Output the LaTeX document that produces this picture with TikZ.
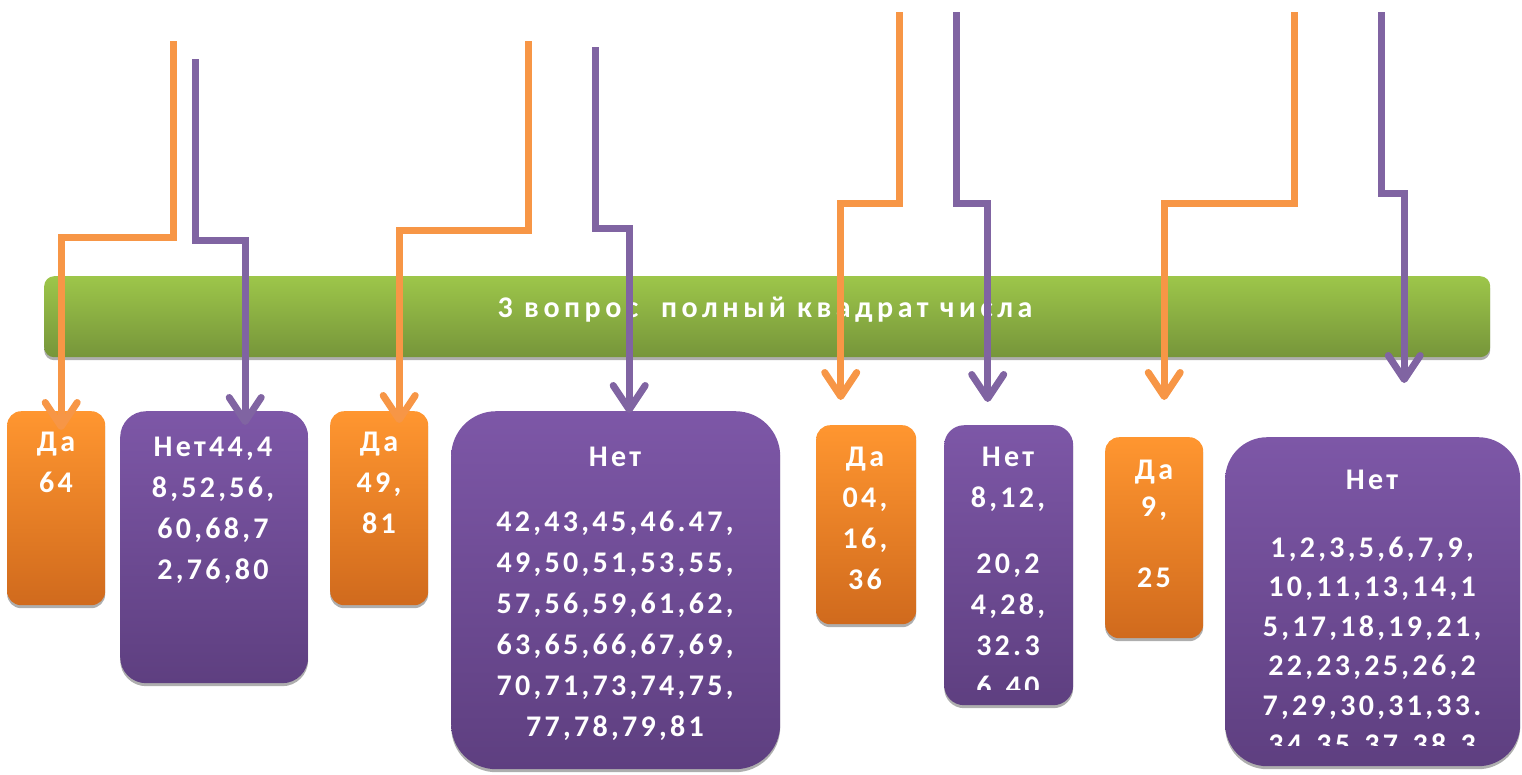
\documentclass[tikz,border=0pt]{standalone}
\usepackage{fontspec}
\setmainfont{Carlito}[LetterSpace=11]
\newfontfamily\barfont{Carlito}[LetterSpace=15]
\usetikzlibrary{arrows.meta,shadows}

\definecolor{datop}{HTML}{FF9630}
\definecolor{dabot}{HTML}{D06A1D}
\definecolor{nettop}{HTML}{7D57A7}
\definecolor{netbot}{HTML}{5E3F80}
\definecolor{bartop}{HTML}{9DC64A}
\definecolor{barbot}{HTML}{76953A}
\definecolor{daline}{HTML}{F79646}
\definecolor{netline}{HTML}{8064A2}

\tikzset{
  boxshadow/.style={drop shadow={shadow xshift=0pt,shadow yshift=-3pt,opacity=.45,fill=black!70}},
  qbar/.style={anchor=north west, inner sep=0, rounded corners=10pt,
    top color=bartop, bottom color=barbot, boxshadow},
  dabox/.style={anchor=north west, inner sep=0, rounded corners=14pt,
    top color=datop, bottom color=dabot, boxshadow},
  netbox/.style={anchor=north west, inner sep=0,
    top color=nettop, bottom color=netbot, boxshadow},
  boxtext/.style={anchor=north, inner sep=0, align=center, text=white,
    font=\bfseries\fontsize{30}{41}\selectfont},
  yesarrow/.style={draw=daline, line width=7pt, line join=miter,
    -{Straight Barb[length=24pt,width=32pt,round]},
    preaction={draw=black!60, opacity=.4, transform canvas={yshift=-3pt}}},
  noarrow/.style={yesarrow, draw=netline}
}

\begin{document}
\begin{tikzpicture}[x=1pt,y=-1pt]
  \useasboundingbox (0,0) rectangle (1522,774);

  % question bar
  \node[qbar, minimum width=1446pt, minimum height=81pt] (q) at (44,276) {};
  \node[anchor=base, inner sep=0, text=white, font=\barfont\bfseries\fontsize{30}{32}\selectfont]
    (qt) at (765,317) {3 вопрос~~полный квадрат числа};

  % answer boxes
  \node[dabox, minimum width=98pt, minimum height=194pt] (D1) at (7,411) {};
  \node[netbox, rounded corners=26pt, minimum width=188pt, minimum height=272pt] (N1) at (120,411) {};
  \node[dabox, minimum width=98pt, minimum height=194pt] (D2) at (330,411) {};
  \node[netbox, rounded corners=45pt, minimum width=329pt, minimum height=358pt] (N2) at (451,411) {};
  \node[dabox, minimum width=100pt, minimum height=199pt] (D3) at (816,425) {};
  \node[netbox, rounded corners=20pt, minimum width=129pt, minimum height=280pt] (N3) at (944,425) {};
  \node[dabox, minimum width=98pt, minimum height=201pt] (D4) at (1105,437) {};
  \node[netbox, rounded corners=42pt, minimum width=295pt, minimum height=329pt] (N4) at (1225,437) {};

  \node[boxtext] (D1t) at (56,432) {Да\\64};
  \node[boxtext] (N1t) at (213,437) {Нет44,4\\8,52,56,\\60,68,7\\2,76,80};
  \node[boxtext] (D2t) at (379,432) {Да\\49,\\81};
  \node[boxtext] (N2t) at (615,447) {Нет\\[24pt]42,43,45,46.47,\\49,50,51,53,55,\\57,56,59,61,62,\\63,65,66,67,69,\\70,71,73,74,75,\\77,78,79,81};
  \node[boxtext] (D3t) at (865,447) {Да\\04,\\16,\\36};
  \begin{scope}
    \clip (N3.north west) rectangle (1073,689);
    \node[boxtext] (N3t) at (1008,447) {Нет\\8,12,\\[25pt]20,2\\4,28,\\32.3\\6,40};
  \end{scope}
  \node[boxtext, font=\bfseries\fontsize{30}{37}\selectfont] (D4t) at (1154,460) {Да\\9,\\[34pt]25};
  \begin{scope}
    \clip (N4.north west) rectangle (1520,745);
    \node[boxtext, font=\bfseries\fontsize{30}{39.5}\selectfont] (N4t) at (1372,470)
      {Нет\\[28pt]1,2,3,5,6,7,9,\\10,11,13,14,1\\5,17,18,19,21,\\22,23,25,26,2\\7,29,30,31,33.\\34,35,37,38,3};
  \end{scope}

  % connectors
  \coordinate (o1) at (173,41);
  \coordinate (p1) at (195,59);
  \coordinate (o2) at (528,41);
  \coordinate (p2) at (595,47);
  \coordinate (o3) at (899,12);
  \coordinate (p3) at (956,12);
  \coordinate (o4) at (1294,12);
  \coordinate (p4) at (1381,12);

  \draw[yesarrow] (o1) -- ++(0,196) -| ([xshift=5pt,yshift=-19pt]D1.north);
  \draw[noarrow] (p1) -- ++(0,181) -| ([xshift=31pt,yshift=-14pt]N1.north);
  \draw[yesarrow] (o2) -- ++(0,189) -| ([xshift=20pt,yshift=-12pt]D2.north);
  \draw[noarrow] (p2) -- ++(0,181) -| ([xshift=13.5pt,yshift=-2pt]N2.north);
  \draw[yesarrow] (o3) -- ++(0,191) -| ([xshift=-25.5pt,yshift=25pt]D3.north);
  \draw[noarrow] (p3) -- ++(0,191) -| ([xshift=-21pt,yshift=23pt]N3.north);
  \draw[yesarrow] (o4) -- ++(0,191) -| ([xshift=10pt,yshift=37pt]D4.north);
  \draw[noarrow] (p4) -- ++(0,181) -| ([xshift=31.5pt,yshift=54pt]N4.north);
\end{tikzpicture}
\end{document}
